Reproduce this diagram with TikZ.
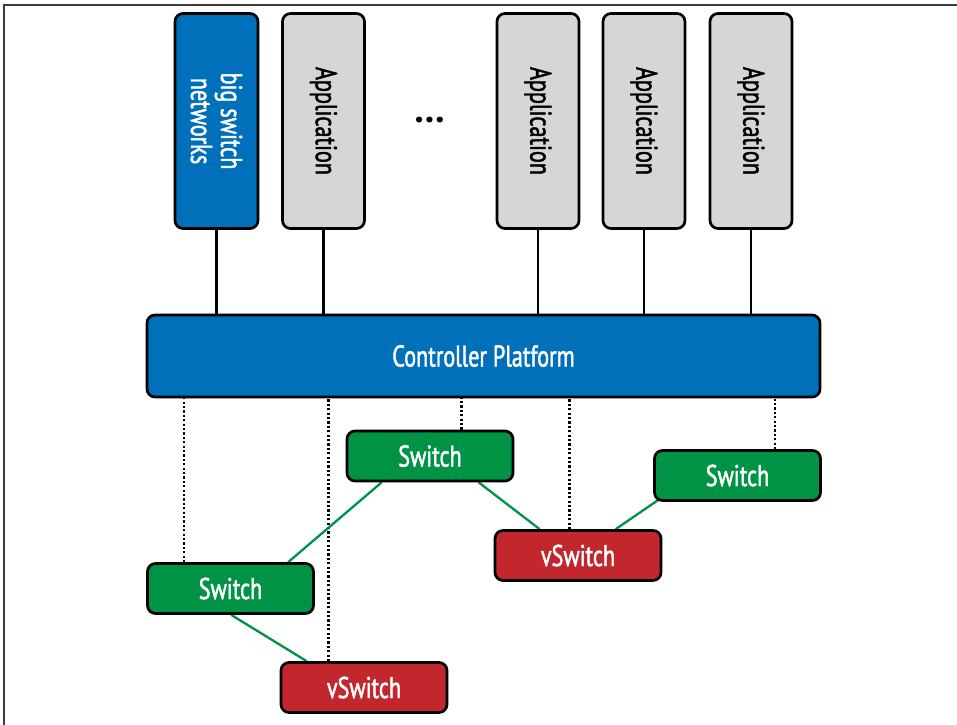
\documentclass[tikz,border=0pt]{standalone}
\usepackage{fontspec}
\setmainfont{PT Sans}[FakeStretch=0.74, FakeBold=1.5]
\newfontfamily\plainfont{PT Sans}
\usetikzlibrary{backgrounds}
\definecolor{bsblue}{RGB}{0,112,186}
\definecolor{bsgreen}{RGB}{0,146,69}
\definecolor{bsred}{RGB}{193,39,45}
\definecolor{bsgray}{RGB}{214,214,214}
\definecolor{framegray}{RGB}{60,60,60}
\tikzset{
  box/.style={draw=black, line width=2.7pt, rounded corners=8pt, inner sep=0pt,
    font=\fontsize{30}{31}\selectfont},
  appbox/.style={box, fill=bsgray, text=black, minimum width=82pt, minimum height=215pt},
  bluebox/.style={box, fill=bsblue, text=white},
  swbox/.style={box, fill=bsgreen, text=white, minimum width=166pt, minimum height=50pt},
  vswbox/.style={box, fill=bsred, text=white, minimum width=166pt, minimum height=50pt},
  vtext/.style={rotate=-90, align=center},
  link/.style={draw=black, line width=2.2pt},
  ctrllink/.style={draw=black, line width=2.4pt, dash pattern=on 2.2pt off 2.2pt},
  greenlink/.style={draw=bsgreen, line width=2.3pt},
}
\begin{document}
\begin{tikzpicture}[x=1pt, y=-1pt]
\useasboundingbox (0,0) rectangle (957,724);
\draw[framegray, line width=1.5pt] (4,5) rectangle (1000,780);

% applications
\node[bluebox, minimum width=83pt, minimum height=215pt] (bsn) at (216.5,121) {};
\node[vtext, text=white, font=\fontsize{30}{30}\selectfont] (bsnt) at (bsn.center) {big switch\\networks};
\node[appbox] (app1) at (323.5,121) {};
\node[vtext, font=\fontsize{30}{30}\selectfont] (app1t) at (app1.center) {Application};
\node[appbox] (app2) at (538,121) {};
\node[vtext, font=\fontsize{30}{30}\selectfont] (app2t) at (app2.center) {Application};
\node[appbox] (app3) at (644,121) {};
\node[vtext, font=\fontsize{30}{30}\selectfont] (app3t) at (app3.center) {Application};
\node[appbox] (app4) at (751,121) {};
\node[vtext, font=\fontsize{30}{30}\selectfont] (app4t) at (app4.center) {Application};
\node[font=\plainfont\bfseries\fontsize{38}{38}\selectfont, inner sep=0pt, anchor=base] (dots) at (430,122) {…};

% controller
\node[bluebox, minimum width=673pt, minimum height=82pt] (ctrl) at (483.5,356) {Controller Platform};

% switches
\node[swbox] (sT) at (430,456) {Switch};
\node[swbox] (sR) at (737.5,475.5) {Switch};
\node[vswbox] (vR) at (578,555.5) {vSwitch};
\node[swbox] (sL) at (230.5,588.5) {Switch};
\node[vswbox] (vB) at (364,687.5) {vSwitch};

\begin{scope}[on background layer]
  \foreach \a in {bsn,app1,app2,app3,app4}
    \draw[link] (\a.south) -- (\a.south |- ctrl.north);
  \draw[ctrllink] ([xshift=38pt]sL.north west) -- ([xshift=38pt]sL.north west |- ctrl.south);
  \draw[ctrllink] ([xshift=49pt]vB.north west) -- ([xshift=49pt]vB.north west |- ctrl.south);
  \draw[ctrllink] ([xshift=116pt]sT.north west) -- ([xshift=116pt]sT.north west |- ctrl.south);
  \draw[ctrllink] ([xshift=76pt]vR.north west) -- ([xshift=76pt]vR.north west |- ctrl.south);
  \draw[ctrllink] ([xshift=122pt]sR.north west) -- ([xshift=122pt]sR.north west |- ctrl.south);
  \draw[greenlink] ([xshift=36pt]sT.south west) -- ([xshift=142pt]sL.north west);
  \draw[greenlink] ([xshift=133pt]sT.south west) -- ([xshift=46pt]vR.north west);
  \draw[greenlink] ([xshift=14pt,yshift=8pt]sR.south west) -- ([xshift=122pt]vR.north west);
  \draw[greenlink] ([xshift=85pt]sL.south west) -- ([xshift=27pt]vB.north west);
\end{scope}
\end{tikzpicture}
\end{document}
